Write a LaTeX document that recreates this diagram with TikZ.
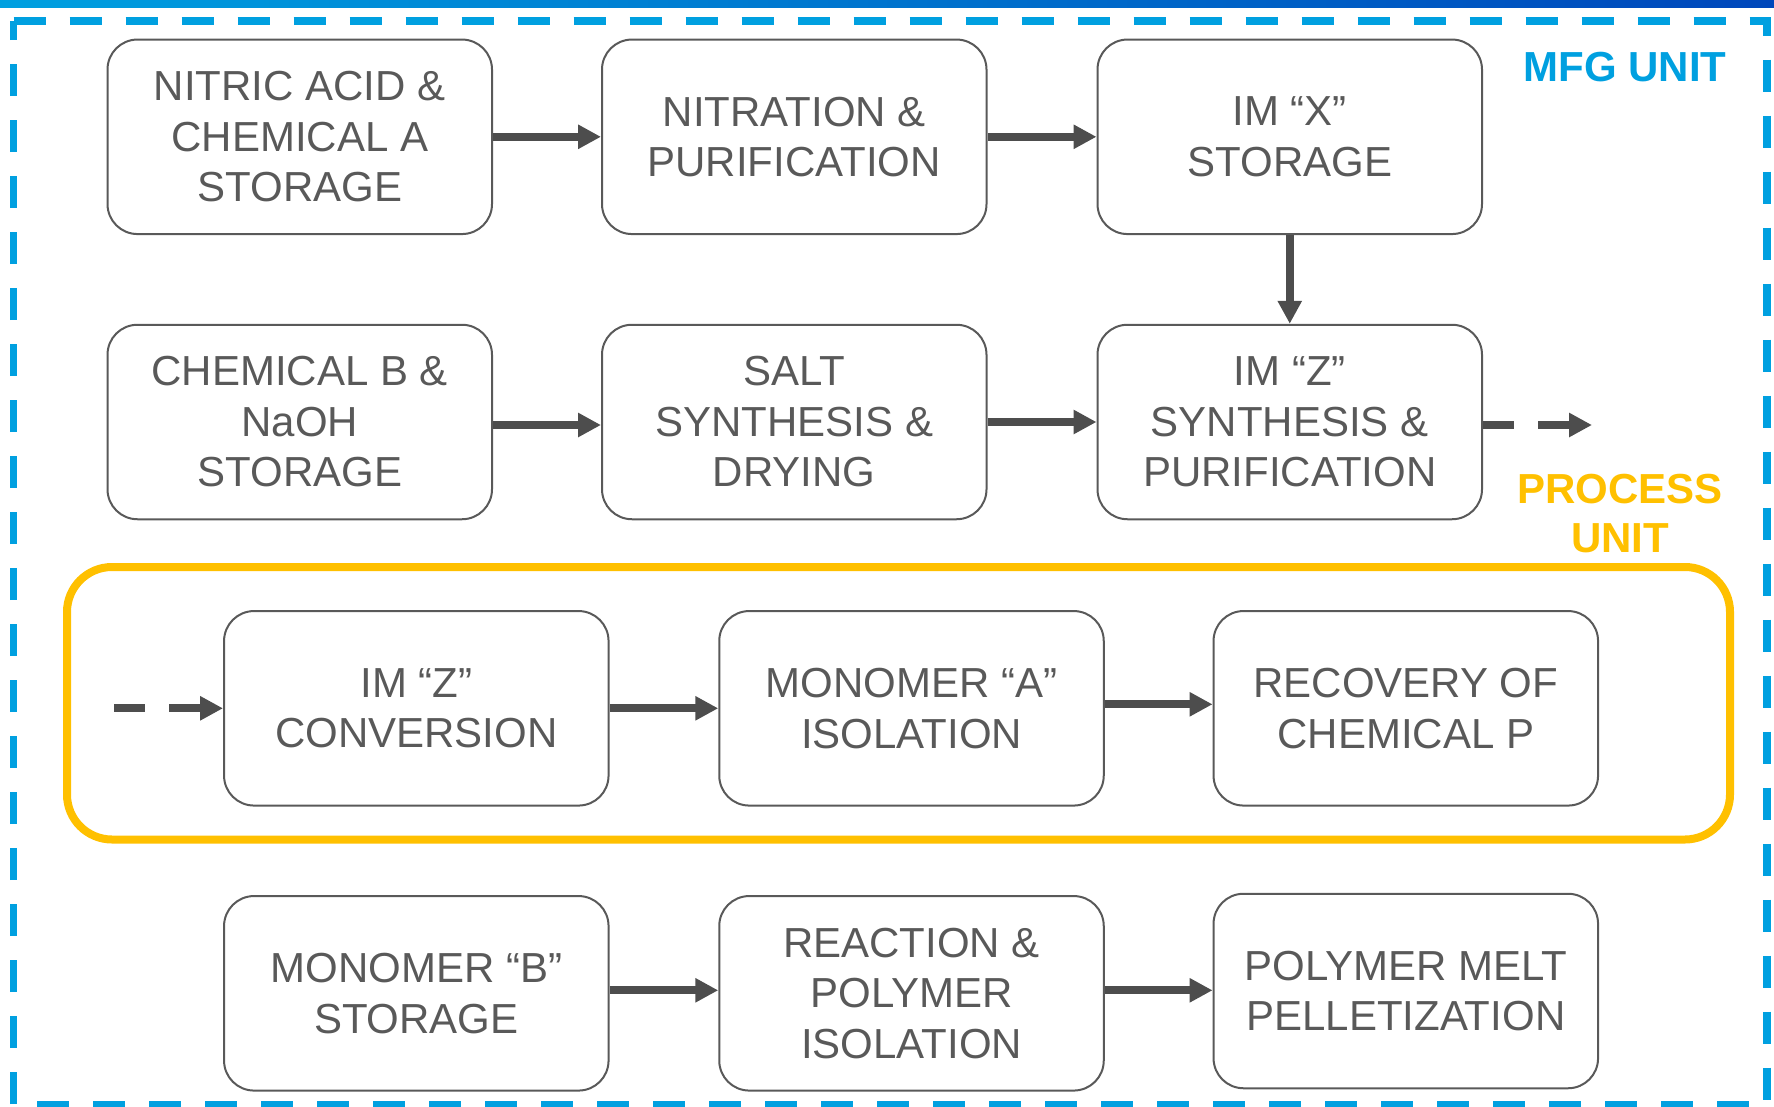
\documentclass[tikz,border=0pt]{standalone}
\usepackage{fontspec}
\setmainfont{Liberation Sans}
\usetikzlibrary{arrows.meta}

\definecolor{boxgray}{HTML}{595959}
\definecolor{arrgray}{HTML}{4D4D4D}
\definecolor{mfgblue}{HTML}{00A0E0}
\definecolor{barblue}{HTML}{0047BB}
\definecolor{procgold}{HTML}{FFC000}

\tikzset{
  stepbox/.style={draw=boxgray, line width=2pt, rounded corners=30pt,
    minimum width=384.5pt, minimum height=194.5pt, inner sep=0pt,
    align=center, text=boxgray, font=\fontsize{42}{50.5}\selectfont},
  flow/.style={draw=arrgray, line width=7.7pt,
    -{Triangle[length=23pt,width=23pt]}},
  dashflow/.style={flow, dash pattern=on 31pt off 24pt},
  unitlabel/.style={font=\bfseries\fontsize{42}{49}\selectfont, align=center}
}

\begin{document}
\begin{tikzpicture}[x=1pt, y=-1pt]
  \useasboundingbox (0,0) rectangle (1774,1106);

  % header bar
  \shade[left color=mfgblue, right color=barblue] (0,0) rectangle (1774,7);

  % manufacturing unit boundary
  \draw[mfgblue, line width=7.5pt, dash pattern=on 32pt off 24pt]
    (13.5,21) -- (1767,21) -- (1767,1105) -- (13.5,1105) -- cycle;
  \node[unitlabel, text=mfgblue] (mfg) at (1625,67) {MFG UNIT};

  % process unit boundary
  \draw[procgold, line width=8pt, rounded corners=45pt]
    (67,567) rectangle (1730,839.5);
  \node[unitlabel, text=procgold] (proc) at (1620,513.5) {PROCESS\\UNIT};

  % row 1
  \node[stepbox] (nitric) at (299.75,136.8) {NITRIC ACID \&\\CHEMICAL A\\STORAGE};
  \node[stepbox] (nitration) at (794.25,136.8) {NITRATION \&\\PURIFICATION};
  \node[stepbox] (imx) at (1289.75,136.8) {IM “X”\\STORAGE};

  % row 2
  \node[stepbox] (chemb) at (299.75,422) {CHEMICAL B \&\\NaOH\\STORAGE};
  \node[stepbox] (salt) at (794.25,422) {SALT\\SYNTHESIS \&\\DRYING};
  \node[stepbox] (imz) at (1289.75,422) {IM “Z”\\SYNTHESIS \&\\PURIFICATION};

  % row 3
  \node[stepbox] (conv) at (416.3,708.3) {IM “Z”\\CONVERSION};
  \node[stepbox] (mona) at (911.5,708.3) {MONOMER “A”\\ISOLATION};
  \node[stepbox] (recov) at (1405.8,708.3) {RECOVERY OF\\CHEMICAL P};

  % row 4
  \node[stepbox] (monb) at (416.3,993.3) {MONOMER “B”\\STORAGE};
  \node[stepbox] (react) at (911.5,993.3) {REACTION \&\\POLYMER\\ISOLATION};
  \node[stepbox] (pellet) at (1405.8,991) {POLYMER MELT\\PELLETIZATION};

  % connectors
  \draw[flow] (nitric.east) -- (nitration.west);
  \draw[flow] (nitration.east) -- (imx.west);
  \draw[flow] (imx.south) -- (imz.north);

  \draw[flow] ([yshift=-3pt]chemb.east) -- ([yshift=-3pt]salt.west);
  \draw[flow] (salt.east) -- (imz.west);

  \coordinate (zout) at (1592,425);
  \draw[dashflow] ([yshift=-3pt]imz.east) -- (zout);

  \coordinate (zin) at (114,708.3);
  \draw[dashflow] (zin) -- (conv.west);
  \draw[flow] (conv.east) -- (mona.west);
  \draw[flow] ([yshift=4pt]mona.east) -- ([yshift=4pt]recov.west);

  \draw[flow] ([yshift=3pt]monb.east) -- ([yshift=3pt]react.west);
  \coordinate (reactout) at ([yshift=3pt]react.east);
  \draw[flow] (reactout) -- (reactout -| pellet.west);
\end{tikzpicture}
\end{document}
